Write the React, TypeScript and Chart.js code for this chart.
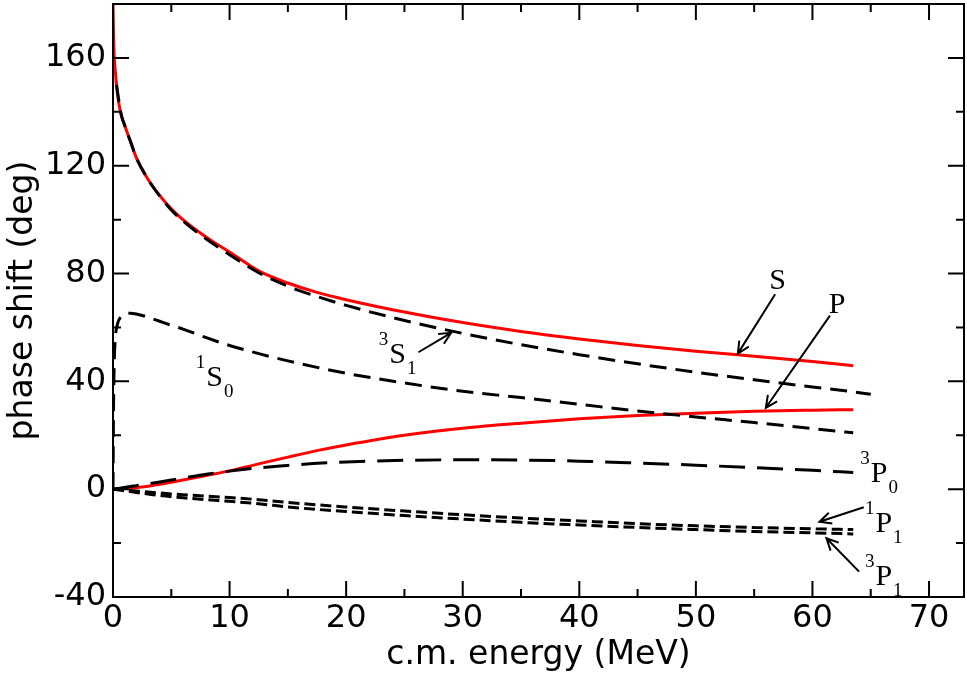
import React, { useEffect, useRef } from 'react';
import { Chart, registerables } from 'chart.js';

Chart.register(...registerables);

// c.m. energy grid (MeV)
const energy = [0, 0.05, 0.1, 0.2, 0.4, 0.7, 1, 1.5, 2, 3, 4, 5, 6, 8, 10, 12.5, 15, 17.5, 20, 25, 30, 35, 40, 45, 50, 55, 60, 63.5];
const energy3S1 = [0.3, 0.7, 1, 1.5, 2, 3, 4, 5, 6, 8, 10, 12.5, 15, 17.5, 20, 25, 30, 35, 40, 45, 50, 55, 60, 63.5, 65];

// phase shifts (deg)
const waveS = [180, 168, 161, 155, 146, 139, 135, 129, 123, 115, 109, 104, 100, 93.5, 88, 81, 76.5, 73, 70.3, 65.7, 61.8, 58.5, 55.7, 53.3, 51.2, 49.3, 47.4, 45.8];
const waveP = [0, 0, 0.01, 0.03, 0.08, 0.15, 0.25, 0.45, 0.65, 1.1, 1.8, 2.6, 3.4, 5.1, 6.8, 9.4, 11.9, 14.3, 16.4, 20, 22.6, 24.5, 26.1, 27.3, 28.2, 28.9, 29.3, 29.5];
const wave3S1 = [150, 139, 135, 129, 123, 115, 108.8, 103.6, 99.5, 92.8, 87, 80.3, 75.3, 71.5, 68.2, 62.6, 57.8, 53.6, 49.9, 46.5, 43.4, 40.6, 37.9, 36.1, 35.2];
const wave1S0 = [0, 32, 46, 56, 61.5, 64, 65, 65.3, 65, 63.8, 62.3, 60.8, 59.4, 56.2, 53.3, 50.3, 47.6, 45.2, 43, 39.4, 36.3, 34, 31.5, 29, 26.8, 24.7, 22.5, 20.9];
const wave3P0 = [0, 0.03, 0.06, 0.12, 0.25, 0.45, 0.65, 1.0, 1.3, 2.0, 2.7, 3.4, 4.1, 5.5, 6.7, 7.9, 8.8, 9.6, 10.1, 10.7, 10.9, 10.8, 10.4, 9.7, 8.9, 8.0, 7.0, 6.2];
const wave1P1 = [0, -0.02, -0.03, -0.06, -0.12, -0.23, -0.35, -0.52, -0.7, -1.05, -1.4, -1.75, -2.05, -2.6, -3.1, -3.9, -4.9, -5.8, -6.6, -8.1, -9.5, -10.7, -11.8, -12.8, -13.6, -14.2, -14.7, -15.0];
const wave3P1 = [0, -0.03, -0.06, -0.12, -0.24, -0.42, -0.6, -0.9, -1.2, -1.8, -2.3, -2.8, -3.2, -3.9, -4.5, -5.4, -6.6, -7.5, -8.3, -9.8, -11.1, -12.3, -13.3, -14.2, -15.0, -15.7, -16.2, -16.6];

// axis ticks
const xMajorTicks = [0, 10, 20, 30, 40, 50, 60, 70];
const xMinorTicks = [5, 15, 25, 35, 45, 55, 65];
const yMajorTicks = [-40, 0, 40, 80, 120, 160];
const yMinorTicks = [-20, 20, 60, 100, 140];

// text annotations (data coordinates of the main letter's left baseline)
const annotationLabels = [
  { main: 'S', sup: '', sub: '', x: 56.3, y: 74.1 },
  { main: 'P', sup: '', sub: '', x: 61.4, y: 65.4 },
  { main: 'S', sup: '3', sub: '1', x: 23.7, y: 46.8 },
  { main: 'S', sup: '1', sub: '0', x: 8.0, y: 38.1 },
  { main: 'P', sup: '3', sub: '0', x: 65.0, y: 2.7 },
  { main: 'P', sup: '1', sub: '1', x: 65.4, y: -15.8 },
  { main: 'P', sup: '3', sub: '1', x: 65.4, y: -35.6 },
];

// arrows [fromX, fromY, toX, toY] in data coordinates
const annotationArrows = [
  [56.8, 72.3, 53.6, 50.3],
  [61.5, 64.4, 56.0, 30.2],
  [26.2, 50.8, 29.0, 58.0],
  [64.4, -6.7, 60.6, -12.1],
  [64.0, -30.6, 61.2, -18.2],
];

const pts = (xs: number[], ys: number[]) => xs.map((x, i) => ({ x, y: ys[i] }));

const framePlugin = {
  id: 'frameTicks',
  afterDraw(chart: any) {
    const { ctx, chartArea: a, scales } = chart;
    const xs = scales.x;
    const ys = scales.y;
    ctx.save();
    ctx.strokeStyle = '#000';
    ctx.lineWidth = 2;
    ctx.lineCap = 'butt';
    ctx.strokeRect(a.left, a.top, a.right - a.left, a.bottom - a.top);
    ctx.beginPath();
    const xt = (v: number, len: number) => {
      const p = xs.getPixelForValue(v);
      ctx.moveTo(p, a.bottom);
      ctx.lineTo(p, a.bottom - len);
      ctx.moveTo(p, a.top);
      ctx.lineTo(p, a.top + len);
    };
    const yt = (v: number, len: number) => {
      const p = ys.getPixelForValue(v);
      ctx.moveTo(a.left, p);
      ctx.lineTo(a.left + len, p);
      ctx.moveTo(a.right, p);
      ctx.lineTo(a.right - len, p);
    };
    xMajorTicks.forEach((v) => xt(v, 16));
    xMinorTicks.forEach((v) => xt(v, 8));
    yMajorTicks.forEach((v) => yt(v, 16));
    yMinorTicks.forEach((v) => yt(v, 8));
    ctx.stroke();

    // arrows
    ctx.lineWidth = 2;
    annotationArrows.forEach(([fx, fy, tx, ty]) => {
      const x1 = xs.getPixelForValue(fx);
      const y1 = ys.getPixelForValue(fy);
      const x2 = xs.getPixelForValue(tx);
      const y2 = ys.getPixelForValue(ty);
      const ang = Math.atan2(y2 - y1, x2 - x1);
      const len = 13;
      const spread = Math.PI / 7;
      ctx.beginPath();
      ctx.moveTo(x1, y1);
      ctx.lineTo(x2, y2);
      ctx.moveTo(x2 - len * Math.cos(ang - spread), y2 - len * Math.sin(ang - spread));
      ctx.lineTo(x2, y2);
      ctx.lineTo(x2 - len * Math.cos(ang + spread), y2 - len * Math.sin(ang + spread));
      ctx.stroke();
    });

    // labels
    ctx.fillStyle = '#000';
    ctx.textAlign = 'left';
    ctx.textBaseline = 'alphabetic';
    annotationLabels.forEach((l) => {
      const px = xs.getPixelForValue(l.x);
      const py = ys.getPixelForValue(l.y);
      ctx.font = '30px "Liberation Serif", "Times New Roman", serif';
      ctx.fillText(l.main, px, py);
      const mw = ctx.measureText(l.main).width;
      ctx.font = '19px "Liberation Serif", "Times New Roman", serif';
      if (l.sup) {
        const sw = ctx.measureText(l.sup).width;
        ctx.fillText(l.sup, px - sw - 1, py - 18);
      }
      if (l.sub) {
        ctx.fillText(l.sub, px + mw + 1, py + 11);
      }
    });
    ctx.restore();
  },
};

export default function App() {
  const ref = useRef<HTMLCanvasElement | null>(null);
  useEffect(() => {
    if (!ref.current) return;
    const tickFont = { family: '"DejaVu Sans", sans-serif', size: 32 };
    const titleFont = { family: '"DejaVu Sans", sans-serif', size: 33 };
    const black = (data: any, dash: number[]) => ({
      data,
      borderColor: '#000',
      borderWidth: 3,
      borderDash: dash,
      pointRadius: 0,
      fill: false,
      cubicInterpolationMode: 'monotone' as const,
    });
    const red = (data: any) => ({
      data,
      borderColor: '#ff0000',
      borderWidth: 3,
      pointRadius: 0,
      fill: false,
      cubicInterpolationMode: 'monotone' as const,
    });
    const chart = new Chart(ref.current, {
      type: 'line',
      data: {
        datasets: [
          { label: '3S1', ...black(pts(energy3S1, wave3S1), [17, 9]) },
          { label: '1S0', ...black(pts(energy, wave1S0), [17, 9]) },
          { label: '3P0', ...black(pts(energy, wave3P0), [26, 12]) },
          { label: '1P1', ...black(pts(energy, wave1P1), [11, 5]) },
          { label: '3P1', ...black(pts(energy, wave3P1), [11, 5]) },
          { label: 'S', ...red(pts(energy, waveS)) },
          { label: 'P', ...red(pts(energy, waveP)) },
        ] as any,
      },
      options: {
        animation: false,
        responsive: false,
        layout: { padding: { top: 4, right: 3, left: 0, bottom: 0 } },
        plugins: { legend: { display: false }, tooltip: { enabled: false } },
        scales: {
          x: {
            type: 'linear',
            min: 0,
            max: 73,
            grid: { display: false, drawTicks: false },
            border: { display: false },
            ticks: { font: tickFont, color: '#000', padding: 2, maxRotation: 0, autoSkip: false },
            afterBuildTicks: (s: any) => {
              s.ticks = xMajorTicks.map((v) => ({ value: v }));
            },
            afterFit: (s: any) => {
              s.height = 82;
              s.paddingLeft = 0;
              s.paddingRight = 0;
            },
            title: {
              display: true,
              text: 'c.m. energy (MeV)',
              font: titleFont,
              color: '#000',
              padding: { top: 0, bottom: 4 },
            },
          },
          y: {
            type: 'linear',
            min: -40,
            max: 180,
            grid: { display: false, drawTicks: false },
            border: { display: false },
            ticks: { font: tickFont, color: '#000', padding: 7, autoSkip: false },
            afterBuildTicks: (s: any) => {
              s.ticks = yMajorTicks.map((v) => ({ value: v }));
            },
            afterFit: (s: any) => {
              s.width = 113;
              s.paddingTop = 0;
              s.paddingBottom = 0;
            },
            title: {
              display: true,
              text: 'phase shift (deg)',
              font: titleFont,
              color: '#000',
              padding: { top: 4, bottom: 0 },
            },
          },
        },
      } as any,
      plugins: [framePlugin],
    });
    return () => chart.destroy();
  }, []);
  return (
    <div style={{ position: 'absolute', left: 0, top: 0, width: 967, height: 679, background: '#fff' }}>
      <canvas ref={ref} width={967} height={679} style={{ display: 'block' }} />
    </div>
  );
}
